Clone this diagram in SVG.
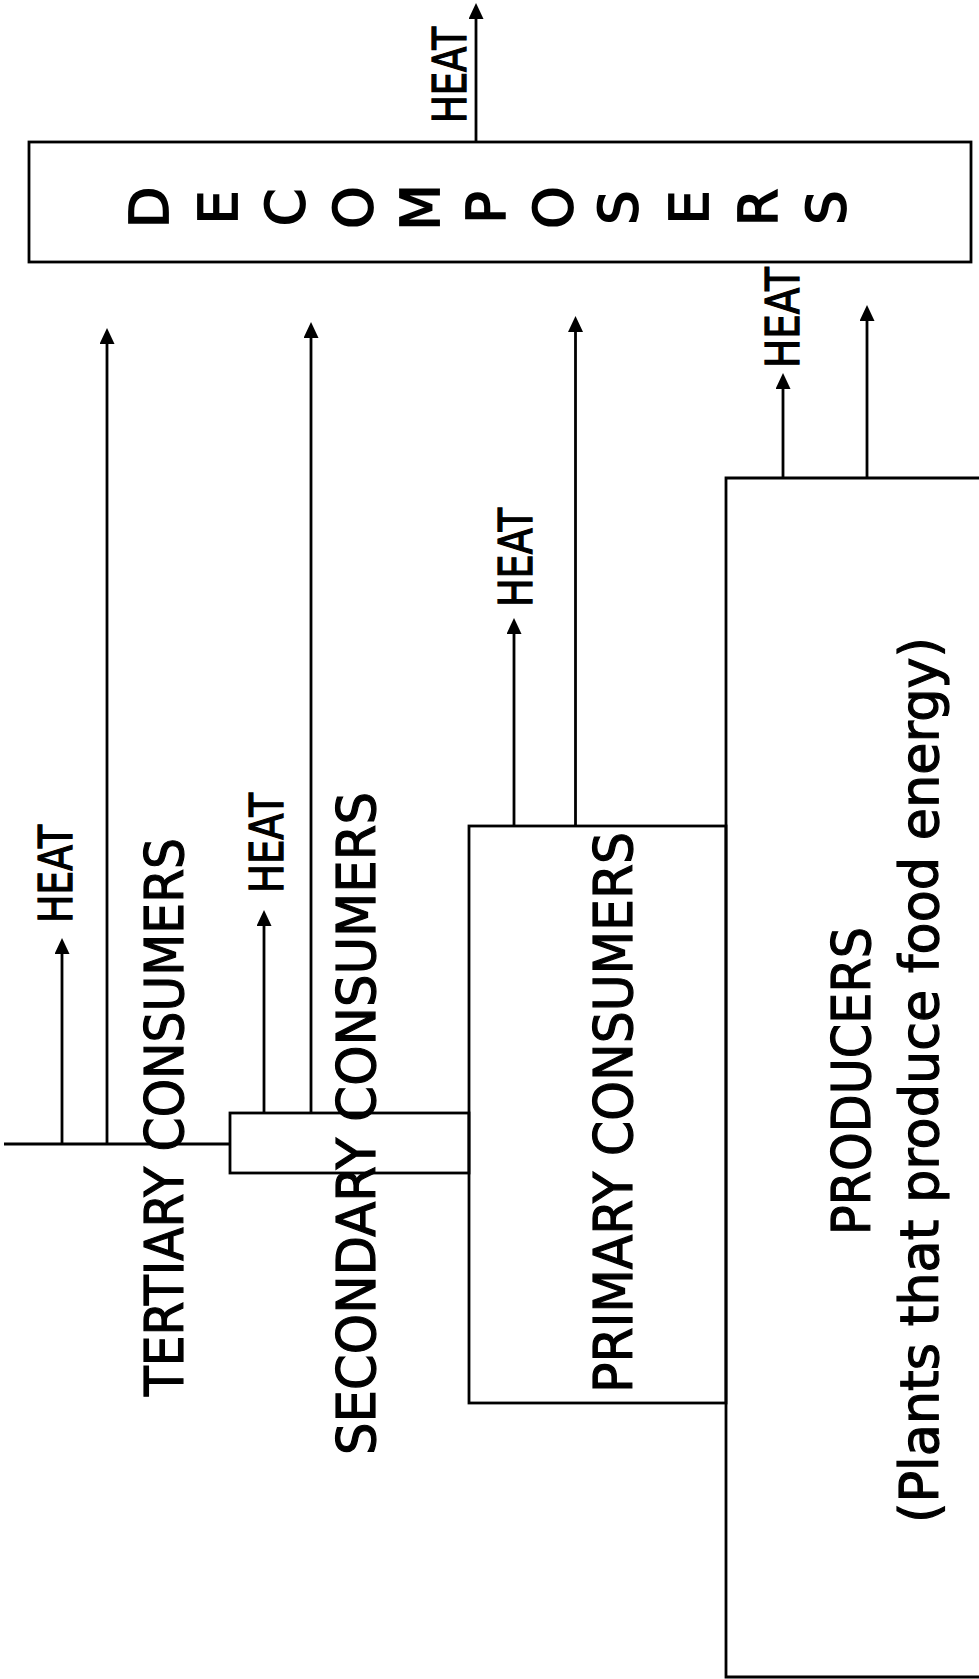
<svg xmlns="http://www.w3.org/2000/svg" width="979" height="1679" viewBox="0 0 979 1679">
<style>
.bx{fill:none;stroke:#000;stroke-width:2.8}
.ln{fill:none;stroke:#000;stroke-width:2.8}
.ar{fill:none;stroke:#000;stroke-width:2.8;marker-end:url(#ah)}
.lb{font-family:"DejaVu Sans","Liberation Sans",sans-serif;font-size:54px;fill:#000;stroke:#000;stroke-width:1.2}
.ht{font-family:"DejaVu Sans","Liberation Sans",sans-serif;font-size:46px;fill:#000;stroke:#000;stroke-width:1.3}
.dl{font-family:"DejaVu Sans","Liberation Sans",sans-serif;font-size:54px;fill:#000;stroke:#000;stroke-width:1.8;text-anchor:middle}
</style>
<defs>
<marker id="ah" markerUnits="userSpaceOnUse" markerWidth="16" markerHeight="15" refX="6" refY="7.5" orient="auto">
<path d="M0,0 L16,7.5 L0,15 Z" fill="#000"/>
</marker>
</defs>
<rect width="979" height="1679" fill="#fff"/>

<g id="decomposers">
<rect class="bx" x="29" y="142" width="942" height="120"/>
<text class="dl" transform="translate(168,207.5) rotate(-90)">D</text>
<text class="dl" transform="translate(237,207.5) rotate(-90)">E</text>
<text class="dl" transform="translate(304,207.5) rotate(-90)">C</text>
<text class="dl" transform="translate(372,207.5) rotate(-90)">O</text>
<text class="dl" transform="translate(439,207.5) rotate(-90)">M</text>
<text class="dl" transform="translate(505,207.5) rotate(-90)">P</text>
<text class="dl" transform="translate(572,207.5) rotate(-90)">O</text>
<text class="dl" transform="translate(637,207.5) rotate(-90)">S</text>
<text class="dl" transform="translate(708,207.5) rotate(-90)">E</text>
<text class="dl" transform="translate(777,207.5) rotate(-90)">R</text>
<text class="dl" transform="translate(845,207.5) rotate(-90)">S</text>
</g>

<g id="tertiary">
<line class="ln" x1="4" y1="1144" x2="230" y2="1144"/>
<text class="lb" transform="translate(183,1396) rotate(-90)" textLength="558" lengthAdjust="spacingAndGlyphs">TERTIARY CONSUMERS</text>
</g>

<g id="secondary">
<rect class="bx" x="230" y="1113" width="239" height="60"/>
<text class="lb" transform="translate(375,1455) rotate(-90)" textLength="663" lengthAdjust="spacingAndGlyphs">SECONDARY CONSUMERS</text>
</g>

<g id="primary">
<rect class="bx" x="469" y="826" width="257" height="577"/>
<text class="lb" transform="translate(632,1393) rotate(-90)" textLength="561" lengthAdjust="spacingAndGlyphs">PRIMARY CONSUMERS</text>
</g>

<g id="producers">
<path class="bx" d="M990,478 H726 V1677 H990"/>
<text class="lb" transform="translate(870,1235) rotate(-90)" textLength="308" lengthAdjust="spacingAndGlyphs">PRODUCERS</text>
<text class="lb" transform="translate(938,1523) rotate(-90)" textLength="886" lengthAdjust="spacingAndGlyphs">(Plants that produce food energy)</text>
</g>

<g id="connectors">
<line class="ar" x1="476" y1="142" x2="476" y2="13"/>
<line class="ar" x1="62" y1="1144" x2="62" y2="948"/>
<line class="ar" x1="107" y1="1145" x2="107" y2="338"/>
<line class="ar" x1="264" y1="1113" x2="264" y2="920"/>
<line class="ar" x1="311" y1="1113" x2="311" y2="332"/>
<line class="ar" x1="514" y1="826" x2="514" y2="628"/>
<line class="ar" x1="575.5" y1="826" x2="575.5" y2="326"/>
<line class="ar" x1="783" y1="478" x2="783" y2="383"/>
<line class="ar" x1="867" y1="478" x2="867" y2="315"/>
</g>

<g id="heat-labels">
<text class="ht" transform="translate(466,123) rotate(-90)" textLength="96" lengthAdjust="spacingAndGlyphs">HEAT</text>
<text class="ht" transform="translate(72,923) rotate(-90)" textLength="98" lengthAdjust="spacingAndGlyphs">HEAT</text>
<text class="ht" transform="translate(283,893) rotate(-90)" textLength="100" lengthAdjust="spacingAndGlyphs">HEAT</text>
<text class="ht" transform="translate(532,607) rotate(-90)" textLength="99" lengthAdjust="spacingAndGlyphs">HEAT</text>
<text class="ht" transform="translate(799,368) rotate(-90)" textLength="101" lengthAdjust="spacingAndGlyphs">HEAT</text>
</g>
</svg>
